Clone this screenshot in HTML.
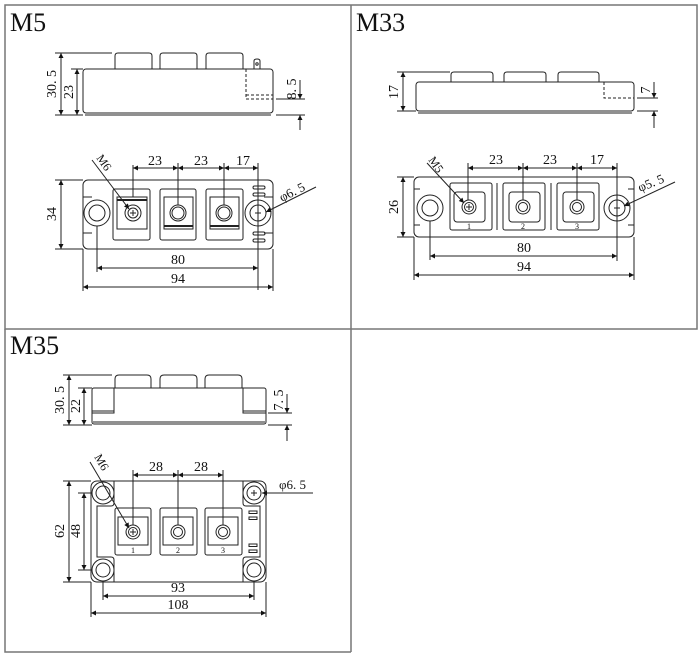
<!DOCTYPE html>
<html><head><meta charset="utf-8"><style>
html,body{margin:0;padding:0;background:#fff;}
svg{display:block;}
text{font-family:"Liberation Serif",serif;fill:#111;}
</style></head><body>
<svg width="700" height="657" viewBox="0 0 700 657" xmlns="http://www.w3.org/2000/svg">
<defs>
<marker id="a" viewBox="0 0 10 10" refX="10" refY="5" markerWidth="7" markerHeight="5" orient="auto-start-reverse" markerUnits="userSpaceOnUse"><path d="M0,0 L10,5 L0,10 z" fill="#111"/></marker>
</defs>
<g fill="none" stroke="#777" stroke-width="1.5">
<rect x="5" y="5" width="692" height="324"/>
<line x1="351" y1="5" x2="351" y2="652"/>
<polyline points="5,329 5,652 351,652"/>
</g>
<text x="10" y="31" font-size="26">M5</text>
<text x="356" y="31" font-size="26">M33</text>
<text x="10" y="354" font-size="26">M35</text>

<g fill="none" stroke="#222" stroke-width="1">
<!-- ===== M5 side ===== -->
<rect x="83" y="69" width="190" height="44" rx="3"/>
<line x1="85" y1="115" x2="271" y2="115"/>
<path d="M115,69 V56 q0,-3 3,-3 h31 q3,0 3,3 V69"/>
<path d="M160,69 V56 q0,-3 3,-3 h31 q3,0 3,3 V69"/>
<path d="M206,69 V56 q0,-3 3,-3 h31 q3,0 3,3 V69"/>
<path d="M254,69 V61 q0,-2 3,-2 q3,0 3,2 V69"/>
<circle cx="257" cy="64" r="1.2"/>
<path d="M246,69 V99 H273" stroke-dasharray="3,2"/>
<line x1="246" y1="95" x2="273" y2="95" stroke-dasharray="3,2"/>
<line x1="55" y1="53" x2="112" y2="53"/>
<line x1="55" y1="115" x2="83" y2="115"/>
<line x1="71" y1="69" x2="83" y2="69"/>
<line x1="61" y1="53" x2="61" y2="115" marker-start="url(#a)" marker-end="url(#a)"/>
<line x1="77" y1="69" x2="77" y2="115" marker-start="url(#a)" marker-end="url(#a)"/>
<line x1="276" y1="99" x2="305" y2="99"/>
<line x1="276" y1="115" x2="305" y2="115"/>
<line x1="300" y1="80" x2="300" y2="99" marker-end="url(#a)"/>
<line x1="300" y1="130" x2="300" y2="115" marker-end="url(#a)"/>
<!-- M5 bottom -->
<rect x="83" y="180" width="190" height="69" rx="5"/>
<path d="M83,197 H92 M83,233 H92 M273,197 H264 M273,233 H264"/>
<rect x="113" y="189" width="37" height="51" rx="2"/>
<rect x="160" y="189" width="36" height="51" rx="2"/>
<rect x="206" y="189" width="37" height="51" rx="2"/>
<rect x="117" y="197" width="30" height="32"/>
<rect x="164" y="197" width="29" height="32"/>
<rect x="210" y="197" width="29" height="32"/>
<line x1="164" y1="226" x2="193" y2="226" stroke-width="2"/>
<line x1="210" y1="226" x2="239" y2="226" stroke-width="2"/>
<line x1="117" y1="200" x2="147" y2="200" stroke-width="2"/>
<circle cx="133" cy="213" r="8"/><circle cx="133" cy="213" r="5"/>
<circle cx="178" cy="213" r="8"/><circle cx="178" cy="213" r="6"/>
<circle cx="224" cy="213" r="8"/><circle cx="224" cy="213" r="6"/>
<path d="M130,213 h6 M133,210 v6"/>
<circle cx="97" cy="213" r="13"/><circle cx="97" cy="213" r="8"/>
<circle cx="258" cy="213" r="13"/><circle cx="258" cy="213" r="8"/>
<path d="M255,213 h6 M258,210 v6"/>
<rect x="253" y="186" width="12" height="3" rx="1.5"/><rect x="253" y="193" width="12" height="3" rx="1.5"/>
<rect x="253" y="232" width="12" height="3" rx="1.5"/><rect x="253" y="239" width="12" height="3" rx="1.5"/>
<line x1="133" y1="165" x2="133" y2="197"/>
<line x1="178" y1="163" x2="178" y2="205"/>
<line x1="224" y1="163" x2="224" y2="205"/>
<line x1="258" y1="163" x2="258" y2="290"/>
<line x1="133" y1="168" x2="178" y2="168" marker-start="url(#a)" marker-end="url(#a)"/>
<line x1="178" y1="168" x2="224" y2="168" marker-start="url(#a)" marker-end="url(#a)"/>
<line x1="224" y1="168" x2="258" y2="168" marker-start="url(#a)" marker-end="url(#a)"/>
<line x1="55" y1="180" x2="83" y2="180"/><line x1="55" y1="249" x2="83" y2="249"/>
<line x1="61" y1="180" x2="61" y2="249" marker-start="url(#a)" marker-end="url(#a)"/>
<line x1="97" y1="226" x2="97" y2="272"/>
<line x1="83" y1="249" x2="83" y2="291"/><line x1="273" y1="249" x2="273" y2="291"/>
<line x1="97" y1="268" x2="258" y2="268" marker-start="url(#a)" marker-end="url(#a)"/>
<line x1="83" y1="287" x2="273" y2="287" marker-start="url(#a)" marker-end="url(#a)"/>
<line x1="92" y1="160" x2="129" y2="209" marker-end="url(#a)"/>
<line x1="316" y1="187" x2="266" y2="212" marker-end="url(#a)"/>

<!-- ===== M33 side ===== -->
<rect x="416" y="82" width="218" height="29" rx="3"/>
<line x1="418" y1="113" x2="632" y2="113"/>
<path d="M451,82 V75 q0,-3 3,-3 h36 q3,0 3,3 V82"/>
<path d="M504,82 V75 q0,-3 3,-3 h36 q3,0 3,3 V82"/>
<path d="M558,82 V75 q0,-3 3,-3 h35 q3,0 3,3 V82"/>
<path d="M604,82 V98 H634" stroke-dasharray="3,2"/>
<line x1="397" y1="72" x2="450" y2="72"/><line x1="397" y1="111" x2="416" y2="111"/>
<line x1="403" y1="72" x2="403" y2="111" marker-start="url(#a)" marker-end="url(#a)"/>
<line x1="637" y1="98" x2="658" y2="98"/><line x1="637" y1="111" x2="658" y2="111"/>
<line x1="654" y1="82" x2="654" y2="98" marker-end="url(#a)"/>
<line x1="654" y1="128" x2="654" y2="111" marker-end="url(#a)"/>
<!-- M33 bottom -->
<rect x="414" y="177" width="220" height="60" rx="5"/>
<path d="M414,189 H420 M414,225 H420 M634,189 H628 M634,225 H628"/>
<rect x="450" y="183" width="42" height="47" rx="2"/>
<rect x="503" y="183" width="42" height="47" rx="2"/>
<rect x="557" y="183" width="42" height="47" rx="2"/>
<line x1="497" y1="183" x2="497" y2="230"/><line x1="551" y1="183" x2="551" y2="230"/>
<rect x="454" y="192" width="31" height="30" rx="3"/>
<rect x="509" y="192" width="31" height="30" rx="3"/>
<rect x="563" y="192" width="31" height="30" rx="3"/>
<circle cx="469" cy="207" r="7"/><circle cx="469" cy="207" r="4.5"/>
<path d="M466,207 h6 M469,204 v6"/>
<circle cx="523" cy="207" r="7"/><circle cx="523" cy="207" r="4.5"/>
<circle cx="577" cy="207" r="7"/><circle cx="577" cy="207" r="4.5"/>
<circle cx="430" cy="208" r="13"/><circle cx="430" cy="208" r="8"/>
<circle cx="617" cy="208" r="13"/><circle cx="617" cy="208" r="8"/>
<path d="M614,208 h6 M617,205 v6"/>
<line x1="468" y1="163" x2="468" y2="200"/>
<line x1="523" y1="163" x2="523" y2="200"/>
<line x1="577" y1="163" x2="577" y2="200"/>
<line x1="617" y1="163" x2="617" y2="261"/>
<line x1="468" y1="168" x2="523" y2="168" marker-start="url(#a)" marker-end="url(#a)"/>
<line x1="523" y1="168" x2="577" y2="168" marker-start="url(#a)" marker-end="url(#a)"/>
<line x1="577" y1="168" x2="617" y2="168" marker-start="url(#a)" marker-end="url(#a)"/>
<line x1="397" y1="177" x2="414" y2="177"/><line x1="397" y1="237" x2="414" y2="237"/>
<line x1="403" y1="177" x2="403" y2="237" marker-start="url(#a)" marker-end="url(#a)"/>
<line x1="430" y1="221" x2="430" y2="260"/>
<line x1="414" y1="237" x2="414" y2="280"/><line x1="634" y1="237" x2="634" y2="280"/>
<line x1="430" y1="256" x2="617" y2="256" marker-start="url(#a)" marker-end="url(#a)"/>
<line x1="414" y1="275" x2="634" y2="275" marker-start="url(#a)" marker-end="url(#a)"/>
<line x1="427" y1="163" x2="464" y2="203" marker-end="url(#a)"/>
<line x1="675" y1="182" x2="624" y2="206" marker-end="url(#a)"/>

<!-- ===== M35 side ===== -->
<rect x="92" y="388" width="174" height="36" rx="2"/>
<line x1="93" y1="422" x2="265" y2="422"/>
<path d="M115,388 V379 q0,-4 4,-4 h28 q4,0 4,4 V388"/>
<path d="M160,388 V379 q0,-4 4,-4 h29 q4,0 4,4 V388"/>
<path d="M205,388 V379 q0,-4 4,-4 h29 q4,0 4,4 V388"/>
<path d="M114,388 V413 H92 M92,411 H114"/>
<path d="M243,388 V413 H266 M266,411 H243"/>
<line x1="63" y1="375" x2="112" y2="375"/><line x1="63" y1="425" x2="92" y2="425"/>
<line x1="78" y1="388" x2="92" y2="388"/>
<line x1="69" y1="375" x2="69" y2="425" marker-start="url(#a)" marker-end="url(#a)"/>
<line x1="84" y1="388" x2="84" y2="425" marker-start="url(#a)" marker-end="url(#a)"/>
<line x1="268" y1="413" x2="292" y2="413"/><line x1="268" y1="425" x2="292" y2="425"/>
<line x1="287" y1="394" x2="287" y2="413" marker-end="url(#a)"/>
<line x1="287" y1="441" x2="287" y2="425" marker-end="url(#a)"/>
<!-- M35 bottom -->
<rect x="91" y="481" width="175" height="101" rx="6"/>
<path d="M114,481 V503 q0,3 -3,3 H97 V557 H111 q3,0 3,3 V582"/>
<path d="M243,481 V503 q0,3 3,3 H260 V557 H246 q-3,0 -3,3 V582"/>
<circle cx="103" cy="493" r="11"/><circle cx="103" cy="493" r="7"/>
<circle cx="254" cy="493" r="11"/><circle cx="254" cy="493" r="7"/>
<path d="M251,493 h6 M254,490 v6"/>
<circle cx="103" cy="570" r="11"/><circle cx="103" cy="570" r="7"/>
<circle cx="254" cy="570" r="11"/><circle cx="254" cy="570" r="7"/>
<rect x="115" y="508" width="36" height="47" rx="2"/>
<rect x="160" y="508" width="37" height="47" rx="2"/>
<rect x="205" y="508" width="37" height="47" rx="2"/>
<rect x="118" y="517" width="30" height="28"/>
<rect x="163" y="517" width="30" height="28"/>
<rect x="208" y="517" width="30" height="28"/>
<circle cx="133" cy="532" r="7"/><circle cx="133" cy="532" r="4.5"/>
<path d="M130,532 h6 M133,529 v6"/>
<circle cx="178" cy="532" r="7"/><circle cx="178" cy="532" r="4.5"/>
<circle cx="223" cy="532" r="7"/><circle cx="223" cy="532" r="4.5"/>
<rect x="249" y="511" width="8" height="2.5"/><rect x="249" y="517" width="8" height="2.5"/>
<rect x="249" y="544" width="8" height="2.5"/><rect x="249" y="550" width="8" height="2.5"/>
<line x1="133" y1="470" x2="133" y2="525"/>
<line x1="178" y1="470" x2="178" y2="525"/>
<line x1="223" y1="470" x2="223" y2="525"/>
<line x1="133" y1="475" x2="178" y2="475" marker-start="url(#a)" marker-end="url(#a)"/>
<line x1="178" y1="475" x2="223" y2="475" marker-start="url(#a)" marker-end="url(#a)"/>
<line x1="63" y1="481" x2="91" y2="481"/><line x1="63" y1="582" x2="91" y2="582"/>
<line x1="78" y1="493" x2="92" y2="493"/><line x1="78" y1="570" x2="92" y2="570"/>
<line x1="69" y1="481" x2="69" y2="582" marker-start="url(#a)" marker-end="url(#a)"/>
<line x1="84" y1="493" x2="84" y2="570" marker-start="url(#a)" marker-end="url(#a)"/>
<line x1="103" y1="582" x2="103" y2="600"/><line x1="254" y1="582" x2="254" y2="600"/>
<line x1="91" y1="582" x2="91" y2="617"/><line x1="266" y1="582" x2="266" y2="617"/>
<line x1="103" y1="596" x2="254" y2="596" marker-start="url(#a)" marker-end="url(#a)"/>
<line x1="91" y1="613" x2="266" y2="613" marker-start="url(#a)" marker-end="url(#a)"/>
<line x1="90" y1="462" x2="129" y2="528" marker-end="url(#a)"/>
<line x1="313" y1="493" x2="262" y2="493" marker-end="url(#a)"/>
</g>

<g font-size="14">
<!-- M5 -->
<text transform="translate(56,84) rotate(-90)" text-anchor="middle">30. 5</text>
<text transform="translate(73,92) rotate(-90)" text-anchor="middle">23</text>
<text transform="translate(296,89) rotate(-90)" text-anchor="middle">8. 5</text>
<text x="155" y="165" text-anchor="middle">23</text>
<text x="201" y="165" text-anchor="middle">23</text>
<text x="243" y="165" text-anchor="middle">17</text>
<text transform="translate(56,214) rotate(-90)" text-anchor="middle">34</text>
<text x="178" y="264" text-anchor="middle">80</text>
<text x="178" y="283" text-anchor="middle">94</text>
<text transform="translate(96,158) rotate(55)" font-size="12">M6</text>
<text transform="translate(282,202) rotate(-27)" font-size="13">φ6. 5</text>
<!-- M33 -->
<text transform="translate(398,92) rotate(-90)" text-anchor="middle">17</text>
<text transform="translate(650,90) rotate(-90)" text-anchor="middle">7</text>
<text x="496" y="164" text-anchor="middle">23</text>
<text x="550" y="164" text-anchor="middle">23</text>
<text x="597" y="164" text-anchor="middle">17</text>
<text transform="translate(398,207) rotate(-90)" text-anchor="middle">26</text>
<text x="524" y="252" text-anchor="middle">80</text>
<text x="524" y="271" text-anchor="middle">94</text>
<text transform="translate(428,160) rotate(55)" font-size="12">M5</text>
<text transform="translate(640,192) rotate(-22)" font-size="13">φ5. 5</text>
<!-- M35 -->
<text transform="translate(64,400) rotate(-90)" text-anchor="middle">30. 5</text>
<text transform="translate(80,406) rotate(-90)" text-anchor="middle">22</text>
<text transform="translate(283,400) rotate(-90)" text-anchor="middle">7. 5</text>
<text x="156" y="471" text-anchor="middle">28</text>
<text x="201" y="471" text-anchor="middle">28</text>
<text transform="translate(64,531) rotate(-90)" text-anchor="middle">62</text>
<text transform="translate(80,531) rotate(-90)" text-anchor="middle">48</text>
<text x="178" y="592" text-anchor="middle">93</text>
<text x="178" y="609" text-anchor="middle">108</text>
<text transform="translate(94,457) rotate(60)" font-size="12">M6</text>
<text x="279" y="489" font-size="13">φ6. 5</text>
</g>
<g font-size="8" fill="#444" text-anchor="middle">
<text x="469" y="229">1</text><text x="523" y="229">2</text><text x="577" y="229">3</text>
<text x="133" y="553">1</text><text x="178" y="553">2</text><text x="223" y="553">3</text>
</g>
</svg>
</body></html>
